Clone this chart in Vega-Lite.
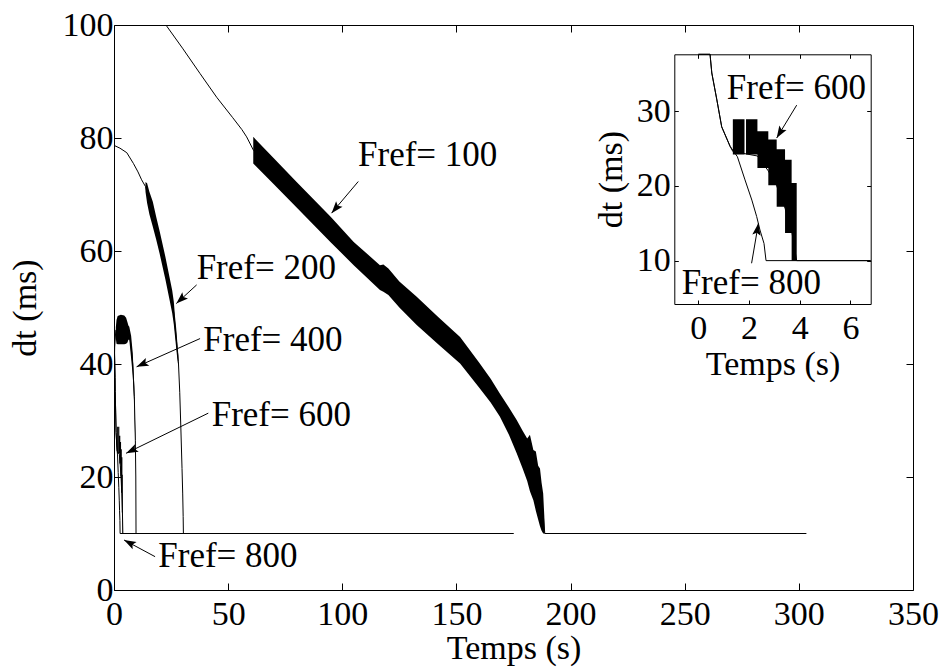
{
  "$schema": "https://vega.github.io/schema/vega-lite/v6.json",
  "width": 799,
  "height": 565,
  "autosize": {"type": "none"},
  "padding": {"left": 114, "top": 25, "right": 28, "bottom": 77},
  "background": "white",
  "config": {
    "view": {"stroke": null},
    "font": "Liberation Serif",
    "axis": {
      "labelFont": "Liberation Serif", "titleFont": "Liberation Serif",
      "labelFontSize": 34, "titleFontSize": 34, "titleFontWeight": "normal",
      "labelColor": "black", "titleColor": "black", "domainColor": "black", "tickColor": "black",
      "grid": false, "labelFlush": false, "labelOverlap": false, "domainWidth": 1, "tickWidth": 1
    }
  },
  "datasets": {
    "curves": [
      {"series": "100", "t": 20, "dt": 101.5},
      {"series": "100", "t": 23.1, "dt": 99.8},
      {"series": "100", "t": 30, "dt": 95.9},
      {"series": "100", "t": 37.7, "dt": 91.4},
      {"series": "100", "t": 45, "dt": 87.2},
      {"series": "100", "t": 52, "dt": 83.6},
      {"series": "100", "t": 56, "dt": 81.5},
      {"series": "100", "t": 58.1, "dt": 80.2},
      {"series": "100", "t": 61, "dt": 77.9},
      {"series": "100", "t": 70, "dt": 74.1},
      {"series": "100", "t": 80, "dt": 70},
      {"series": "100", "t": 95, "dt": 63.8},
      {"series": "100", "t": 105, "dt": 59.7},
      {"series": "100", "t": 116.5, "dt": 55.3},
      {"series": "100", "t": 120.2, "dt": 54.6},
      {"series": "100", "t": 125, "dt": 52.3},
      {"series": "100", "t": 132.6, "dt": 49.4},
      {"series": "100", "t": 142, "dt": 45.9},
      {"series": "100", "t": 151.6, "dt": 42.5},
      {"series": "100", "t": 160, "dt": 38},
      {"series": "100", "t": 169, "dt": 32.8},
      {"series": "100", "t": 176.4, "dt": 27.2},
      {"series": "100", "t": 181, "dt": 23},
      {"series": "100", "t": 183.7, "dt": 20.4},
      {"series": "100", "t": 186, "dt": 17},
      {"series": "100", "t": 188, "dt": 13.5},
      {"series": "100", "t": 188.7, "dt": 10},
      {"series": "100", "t": 303.3, "dt": 10},
      {"series": "200", "t": 0, "dt": 78.7},
      {"series": "200", "t": 2.6, "dt": 78.2},
      {"series": "200", "t": 5.6, "dt": 77.4},
      {"series": "200", "t": 8.5, "dt": 75.5},
      {"series": "200", "t": 10.5, "dt": 74},
      {"series": "200", "t": 12.1, "dt": 72.6},
      {"series": "200", "t": 13.8, "dt": 71.4},
      {"series": "200", "t": 14.5, "dt": 70.2},
      {"series": "200", "t": 15.5, "dt": 68.5},
      {"series": "200", "t": 17, "dt": 66.5},
      {"series": "200", "t": 18.5, "dt": 64},
      {"series": "200", "t": 20, "dt": 61.5},
      {"series": "200", "t": 22.5, "dt": 57},
      {"series": "200", "t": 24.5, "dt": 53},
      {"series": "200", "t": 25.5, "dt": 51},
      {"series": "200", "t": 26.2, "dt": 49},
      {"series": "200", "t": 26.7, "dt": 46.8},
      {"series": "200", "t": 27.2, "dt": 44.8},
      {"series": "200", "t": 27.7, "dt": 42.5},
      {"series": "200", "t": 28.2, "dt": 40.5},
      {"series": "200", "t": 28.8, "dt": 35},
      {"series": "200", "t": 29.3, "dt": 28.5},
      {"series": "200", "t": 29.8, "dt": 21.5},
      {"series": "200", "t": 30.1, "dt": 17},
      {"series": "200", "t": 30.3, "dt": 13},
      {"series": "200", "t": 30.4, "dt": 10},
      {"series": "200", "t": 175, "dt": 10},
      {"series": "400", "t": 0, "dt": 37},
      {"series": "400", "t": 0.3, "dt": 43},
      {"series": "400", "t": 0.8, "dt": 46},
      {"series": "400", "t": 3, "dt": 46},
      {"series": "400", "t": 6.3, "dt": 46},
      {"series": "400", "t": 6.7, "dt": 45.5},
      {"series": "400", "t": 7.5, "dt": 43},
      {"series": "400", "t": 8.2, "dt": 40},
      {"series": "400", "t": 8.9, "dt": 34.2},
      {"series": "400", "t": 9.35, "dt": 26.5},
      {"series": "400", "t": 9.55, "dt": 20},
      {"series": "400", "t": 9.65, "dt": 10},
      {"series": "400", "t": 175, "dt": 10},
      {"series": "600", "t": 0, "dt": 46},
      {"series": "600", "t": 0.46, "dt": 37.6},
      {"series": "600", "t": 0.53, "dt": 35.1},
      {"series": "600", "t": 0.73, "dt": 31.5},
      {"series": "600", "t": 0.92, "dt": 27.9},
      {"series": "600", "t": 1.25, "dt": 25.3},
      {"series": "600", "t": 1.36, "dt": 24.6},
      {"series": "600", "t": 2.33, "dt": 24},
      {"series": "600", "t": 2.76, "dt": 22},
      {"series": "600", "t": 3.09, "dt": 20},
      {"series": "600", "t": 3.42, "dt": 17},
      {"series": "600", "t": 3.68, "dt": 14},
      {"series": "600", "t": 3.88, "dt": 10},
      {"series": "600", "t": 157, "dt": 10},
      {"series": "800", "t": 0, "dt": 46},
      {"series": "800", "t": 0.46, "dt": 37.6},
      {"series": "800", "t": 0.53, "dt": 35.1},
      {"series": "800", "t": 0.73, "dt": 31.5},
      {"series": "800", "t": 0.92, "dt": 27.9},
      {"series": "800", "t": 1.25, "dt": 25.3},
      {"series": "800", "t": 1.54, "dt": 23.9},
      {"series": "800", "t": 1.84, "dt": 20.8},
      {"series": "800", "t": 2.11, "dt": 18.1},
      {"series": "800", "t": 2.3, "dt": 15.9},
      {"series": "800", "t": 2.43, "dt": 14.1},
      {"series": "800", "t": 2.59, "dt": 12.3},
      {"series": "800", "t": 2.67, "dt": 10},
      {"series": "800", "t": 152, "dt": 10}
    ],
    "bands": [
      {"series": "100", "t": 61, "lo": 75.5, "hi": 80.2},
      {"series": "100", "t": 70, "lo": 71.8, "hi": 76.4},
      {"series": "100", "t": 80, "lo": 67.7, "hi": 72.2},
      {"series": "100", "t": 95, "lo": 61.5, "hi": 66},
      {"series": "100", "t": 105, "lo": 57.5, "hi": 61.6},
      {"series": "100", "t": 116.5, "lo": 53.1, "hi": 57.5},
      {"series": "100", "t": 118, "lo": 52.8, "hi": 57.6},
      {"series": "100", "t": 120.2, "lo": 52.2, "hi": 56.9},
      {"series": "100", "t": 125, "lo": 50, "hi": 54.6},
      {"series": "100", "t": 132.6, "lo": 46.9, "hi": 51.9},
      {"series": "100", "t": 142, "lo": 43.5, "hi": 48.3},
      {"series": "100", "t": 151.6, "lo": 40.1, "hi": 44.8},
      {"series": "100", "t": 160, "lo": 35.8, "hi": 40.2},
      {"series": "100", "t": 165, "lo": 33.2, "hi": 37.4},
      {"series": "100", "t": 169, "lo": 30.7, "hi": 34.8},
      {"series": "100", "t": 173, "lo": 27.5, "hi": 32.3},
      {"series": "100", "t": 176.4, "lo": 24.2, "hi": 30.1},
      {"series": "100", "t": 179, "lo": 21.5, "hi": 28.2},
      {"series": "100", "t": 181, "lo": 19.3, "hi": 26.8},
      {"series": "100", "t": 182.2, "lo": 17.5, "hi": 27.5},
      {"series": "100", "t": 183.7, "lo": 15.9, "hi": 24.8},
      {"series": "100", "t": 184.8, "lo": 14, "hi": 24.5},
      {"series": "100", "t": 185.8, "lo": 12.5, "hi": 22},
      {"series": "100", "t": 186.6, "lo": 11.3, "hi": 21.5},
      {"series": "100", "t": 187.3, "lo": 10.5, "hi": 19},
      {"series": "100", "t": 188, "lo": 10, "hi": 17.1},
      {"series": "100", "t": 188.5, "lo": 10, "hi": 13},
      {"series": "100", "t": 188.7, "lo": 10, "hi": 10},
      {"series": "200", "t": 13.8, "lo": 70.5, "hi": 72.2},
      {"series": "200", "t": 14.5, "lo": 68.5, "hi": 72},
      {"series": "200", "t": 15.5, "lo": 66.5, "hi": 70.5},
      {"series": "200", "t": 17, "lo": 64.3, "hi": 68.7},
      {"series": "200", "t": 18.5, "lo": 62, "hi": 66},
      {"series": "200", "t": 20, "lo": 59.5, "hi": 63.5},
      {"series": "200", "t": 22.5, "lo": 55, "hi": 59},
      {"series": "200", "t": 24.5, "lo": 51, "hi": 55},
      {"series": "200", "t": 25.5, "lo": 49, "hi": 53},
      {"series": "200", "t": 26.2, "lo": 47, "hi": 51},
      {"series": "200", "t": 26.7, "lo": 45, "hi": 48.5},
      {"series": "200", "t": 27.2, "lo": 43, "hi": 46.5},
      {"series": "200", "t": 27.7, "lo": 41, "hi": 44},
      {"series": "200", "t": 28.2, "lo": 39.5, "hi": 41.5},
      {"series": "400", "t": 0.8, "lo": 44.5, "hi": 46.5},
      {"series": "400", "t": 1.1, "lo": 43.6, "hi": 47.8},
      {"series": "400", "t": 1.6, "lo": 43.5, "hi": 48.5},
      {"series": "400", "t": 3, "lo": 43.5, "hi": 48.7},
      {"series": "400", "t": 4.5, "lo": 43.5, "hi": 48.6},
      {"series": "400", "t": 5.3, "lo": 43.6, "hi": 48.2},
      {"series": "400", "t": 5.9, "lo": 43.8, "hi": 47.4},
      {"series": "400", "t": 6.3, "lo": 44.3, "hi": 46.8},
      {"series": "400", "t": 6.7, "lo": 44.3, "hi": 46.6},
      {"series": "400", "t": 7.5, "lo": 41, "hi": 45},
      {"series": "400", "t": 8.2, "lo": 38, "hi": 42},
      {"series": "400", "t": 8.9, "lo": 32.5, "hi": 36},
      {"series": "400", "t": 9.35, "lo": 25.5, "hi": 27.5},
      {"series": "600", "t": 1.36, "lo": 24.2, "hi": 28.9},
      {"series": "600", "t": 1.82, "lo": 26, "hi": 26},
      {"series": "600", "t": 1.88, "lo": 24.2, "hi": 28.9},
      {"series": "600", "t": 2.33, "lo": 22.4, "hi": 27.3},
      {"series": "600", "t": 2.76, "lo": 20.1, "hi": 26.2},
      {"series": "600", "t": 3.09, "lo": 17.2, "hi": 24.9},
      {"series": "600", "t": 3.42, "lo": 13.7, "hi": 23.5},
      {"series": "600", "t": 3.68, "lo": 10, "hi": 20.4},
      {"series": "600", "t": 3.88, "lo": 10, "hi": 10}
    ],
    "labels": [
      {"panel": "main", "label": "Fref= 100", "tx": 106.9, "ty": 75, "t1": 107, "dt1": 72.3, "t2": 95.3, "dt2": 66.7},
      {"panel": "main", "label": "Fref= 200", "tx": 36.2, "ty": 55, "t1": 36.2, "dt1": 54, "t2": 27.3, "dt2": 50.7},
      {"panel": "main", "label": "Fref= 400", "tx": 39.1, "ty": 42.3, "t1": 37.7, "dt1": 44.5, "t2": 9.9, "dt2": 39.5},
      {"panel": "main", "label": "Fref= 600", "tx": 42.8, "ty": 29, "t1": 41.3, "dt1": 31.3, "t2": 5.3, "dt2": 24.2},
      {"panel": "main", "label": "Fref= 800", "tx": 19.4, "ty": 4, "t1": 18, "dt1": 5.9, "t2": 4.4, "dt2": 8.85},
      {"panel": "inset", "label": "Fref= 600", "tx": 1.12, "ty": 31.6, "t1": 3.88, "dt1": 30.8, "t2": 3.09, "dt2": 26.4},
      {"panel": "inset", "label": "Fref= 800", "tx": -0.66, "ty": 5.5, "t1": 2.1, "dt1": 9.65, "t2": 2.37, "dt2": 15}
    ]
  },
  "layer": [
    {
      "layer": [
        {
          "data": {"name": "bands"},
          "transform": [{"filter": "datum.series != '600'"}],
          "mark": {"type": "area", "color": "black", "clip": true, "interpolate": "linear"},
          "encoding": {
            "x": {"field": "t", "type": "quantitative", "scale": {"domain": [0, 350], "nice": false, "zero": false}, "axis": null},
            "y": {"field": "lo", "type": "quantitative", "stack": null, "scale": {"domain": [0, 100], "nice": false, "zero": false}, "axis": null},
            "y2": {"field": "hi"},
            "detail": {"field": "series"}
          }
        },
        {
          "data": {"name": "bands"},
          "transform": [{"filter": "datum.series == '600'"}],
          "mark": {"type": "area", "color": "black", "clip": true, "interpolate": "step-after"},
          "encoding": {
            "x": {"field": "t", "type": "quantitative", "scale": {"domain": [0, 350], "nice": false, "zero": false}, "axis": null},
            "y": {"field": "lo", "type": "quantitative", "stack": null, "scale": {"domain": [0, 100], "nice": false, "zero": false}, "axis": null},
            "y2": {"field": "hi"}
          }
        },
        {
          "data": {"name": "curves"},
          "mark": {"type": "line", "color": "black", "strokeWidth": 1, "clip": true},
          "encoding": {
            "x": {"field": "t", "type": "quantitative", "scale": {"domain": [0, 350], "nice": false, "zero": false}, "axis": null},
            "y": {"field": "dt", "type": "quantitative", "scale": {"domain": [0, 100], "nice": false, "zero": false}, "axis": null},
            "detail": {"field": "series"}
          }
        },
        {
          "data": {"name": "labels"},
          "transform": [{"filter": "datum.panel == 'main'"}],
          "mark": {"type": "rule", "color": "black", "strokeWidth": 1},
          "encoding": {
            "x": {"field": "t1", "type": "quantitative", "scale": {"domain": [0, 350], "nice": false, "zero": false}, "axis": null},
            "y": {"field": "dt1", "type": "quantitative", "scale": {"domain": [0, 100], "nice": false, "zero": false}, "axis": null},
            "x2": {"field": "t2"},
            "y2": {"field": "dt2"}
          }
        },
        {
          "data": {"name": "labels"},
          "transform": [
            {"filter": "datum.panel == 'main'"},
            {"calculate": "atan2(-(datum.dt2 - datum.dt1) * 5.65, (datum.t2 - datum.t1) * 2.2829) * 180 / PI", "as": "ang"}
          ],
          "mark": {"type": "point", "shape": "M0,0L-2,-0.7L-1.6,0L-2,0.7Z", "filled": true, "color": "black", "opacity": 1, "size": 144, "strokeWidth": 0},
          "encoding": {
            "x": {"field": "t2", "type": "quantitative", "scale": {"domain": [0, 350], "nice": false, "zero": false}, "axis": null},
            "y": {"field": "dt2", "type": "quantitative", "scale": {"domain": [0, 100], "nice": false, "zero": false}, "axis": null},
            "angle": {"field": "ang", "type": "quantitative", "scale": null}
          }
        },
        {
          "data": {"name": "labels"},
          "transform": [{"filter": "datum.panel == 'main'"}],
          "mark": {"type": "text", "align": "left", "baseline": "alphabetic", "font": "Liberation Serif", "fontSize": 35, "color": "black"},
          "encoding": {
            "x": {"field": "tx", "type": "quantitative", "scale": {"domain": [0, 350], "nice": false, "zero": false}, "axis": null},
            "y": {"field": "ty", "type": "quantitative", "scale": {"domain": [0, 100], "nice": false, "zero": false}, "axis": null},
            "text": {"field": "label"}
          }
        }
      ]
    },
    {
      "data": {"values": [{"a": 0, "b": 0}]},
      "mark": {"type": "point", "opacity": 0},
      "encoding": {
        "x": {"field": "a", "type": "quantitative", "scale": {"domain": [0, 350], "nice": false, "zero": false},
              "axis": {"orient": "bottom", "title": "Temps (s)", "values": [0, 50, 100, 150, 200, 250, 300, 350], "tickSize": -7, "labelPadding": 14, "titlePadding": 0}},
        "y": {"field": "b", "type": "quantitative", "scale": {"domain": [0, 100], "nice": false, "zero": false},
              "axis": {"orient": "left", "title": "dt (ms)", "values": [0, 20, 40, 60, 80, 100], "tickSize": -7, "labelPadding": 8, "titlePadding": 20}}
      }
    },
    {
      "data": {"values": [{"a": 0, "b": 0}]},
      "mark": {"type": "point", "opacity": 0},
      "encoding": {
        "x": {"field": "a", "type": "quantitative", "scale": {"domain": [0, 350], "nice": false, "zero": false},
              "axis": {"orient": "top", "labels": false, "title": null, "values": [50, 100, 150, 200, 250, 300], "tickSize": -7}},
        "y": {"field": "b", "type": "quantitative", "scale": {"domain": [0, 100], "nice": false, "zero": false},
              "axis": {"orient": "right", "labels": false, "title": null, "values": [20, 40, 60, 80], "tickSize": -7}}
      }
    },
    {
      "layer": [
        {
          "data": {"name": "bands"},
          "transform": [{"filter": "datum.series == '600'"}],
          "mark": {"type": "area", "color": "black", "interpolate": "step-after"},
          "encoding": {
            "x": {"field": "t", "type": "quantitative", "scale": {"domain": [-0.95, 6.8], "range": [560.3, 756.7], "nice": false, "zero": false, "clamp": true}, "axis": null},
            "y": {"field": "lo", "type": "quantitative", "stack": null, "scale": {"domain": [4.2, 37.6], "range": [279, 29.3], "nice": false, "zero": false, "clamp": true}, "axis": null},
            "y2": {"field": "hi"}
          }
        },
        {
          "data": {"name": "curves"},
          "transform": [{"filter": "datum.series == '600' || datum.series == '800'"}],
          "mark": {"type": "line", "color": "black", "strokeWidth": 1},
          "encoding": {
            "x": {"field": "t", "type": "quantitative", "scale": {"domain": [-0.95, 6.8], "range": [560.3, 756.7], "nice": false, "zero": false, "clamp": true}, "axis": null},
            "y": {"field": "dt", "type": "quantitative", "scale": {"domain": [4.2, 37.6], "range": [279, 29.3], "nice": false, "zero": false, "clamp": true}, "axis": null},
            "detail": {"field": "series"}
          }
        },
        {
          "data": {"name": "labels"},
          "transform": [{"filter": "datum.panel == 'inset'"}],
          "mark": {"type": "rule", "color": "black", "strokeWidth": 1},
          "encoding": {
            "x": {"field": "t1", "type": "quantitative", "scale": {"domain": [-0.95, 6.8], "range": [560.3, 756.7], "nice": false, "zero": false, "clamp": true}, "axis": null},
            "y": {"field": "dt1", "type": "quantitative", "scale": {"domain": [4.2, 37.6], "range": [279, 29.3], "nice": false, "zero": false, "clamp": true}, "axis": null},
            "x2": {"field": "t2"},
            "y2": {"field": "dt2"}
          }
        },
        {
          "data": {"name": "labels"},
          "transform": [
            {"filter": "datum.panel == 'inset'"},
            {"calculate": "atan2(-(datum.dt2 - datum.dt1) * 7.476, (datum.t2 - datum.t1) * 25.342) * 180 / PI", "as": "ang"}
          ],
          "mark": {"type": "point", "shape": "M0,0L-2,-0.7L-1.6,0L-2,0.7Z", "filled": true, "color": "black", "opacity": 1, "size": 144, "strokeWidth": 0},
          "encoding": {
            "x": {"field": "t2", "type": "quantitative", "scale": {"domain": [-0.95, 6.8], "range": [560.3, 756.7], "nice": false, "zero": false, "clamp": true}, "axis": null},
            "y": {"field": "dt2", "type": "quantitative", "scale": {"domain": [4.2, 37.6], "range": [279, 29.3], "nice": false, "zero": false, "clamp": true}, "axis": null},
            "angle": {"field": "ang", "type": "quantitative", "scale": null}
          }
        },
        {
          "data": {"name": "labels"},
          "transform": [{"filter": "datum.panel == 'inset'"}],
          "mark": {"type": "text", "align": "left", "baseline": "alphabetic", "font": "Liberation Serif", "fontSize": 35, "color": "black"},
          "encoding": {
            "x": {"field": "tx", "type": "quantitative", "scale": {"domain": [-0.95, 6.8], "range": [560.3, 756.7], "nice": false, "zero": false, "clamp": true}, "axis": null},
            "y": {"field": "ty", "type": "quantitative", "scale": {"domain": [4.2, 37.6], "range": [279, 29.3], "nice": false, "zero": false, "clamp": true}, "axis": null},
            "text": {"field": "label"}
          }
        }
      ]
    },
    {
      "data": {"values": [{"a": 0, "b": 10}]},
      "mark": {"type": "point", "opacity": 0},
      "encoding": {
        "x": {"field": "a", "type": "quantitative", "scale": {"domain": [-0.95, 6.8], "range": [560.3, 756.7], "nice": false, "zero": false},
              "axis": {"orient": "bottom", "offset": -286, "title": "Temps (s)", "values": [0, 2, 4, 6], "tickSize": -4, "labelPadding": 11, "titlePadding": 2}},
        "y": {"field": "b", "type": "quantitative", "scale": {"domain": [4.2, 37.6], "range": [279, 29.3], "nice": false, "zero": false},
              "axis": {"orient": "left", "offset": -560.3, "title": "dt (ms)", "values": [10, 20, 30], "tickSize": -4, "labelPadding": 8, "titlePadding": 8}}
      }
    },
    {
      "data": {"values": [{"a": 0, "b": 10}]},
      "mark": {"type": "point", "opacity": 0},
      "encoding": {
        "x": {"field": "a", "type": "quantitative", "scale": {"domain": [-0.95, 6.8], "range": [560.3, 756.7], "nice": false, "zero": false},
              "axis": {"orient": "top", "offset": -29.3, "labels": false, "title": null, "values": [0, 2, 4, 6], "tickSize": -4}},
        "y": {"field": "b", "type": "quantitative", "scale": {"domain": [4.2, 37.6], "range": [279, 29.3], "nice": false, "zero": false},
              "axis": {"orient": "right", "offset": -42.3, "labels": false, "title": null, "values": [10, 20, 30], "tickSize": -4}}
      }
    }
  ],
  "resolve": {"scale": {"x": "independent", "y": "independent"}, "axis": {"x": "independent", "y": "independent"}}
}
